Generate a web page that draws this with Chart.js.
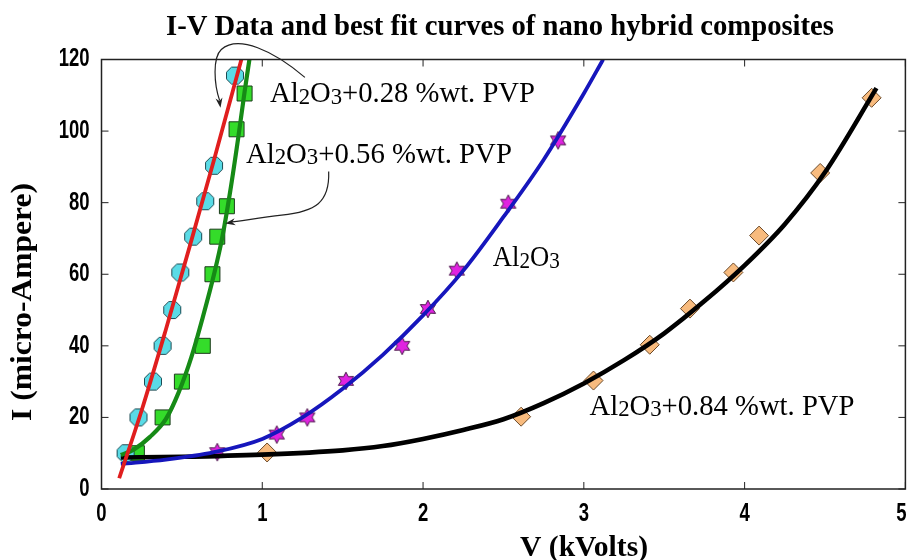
<!DOCTYPE html>
<html>
<head>
<meta charset="utf-8">
<script src="https://cdn.jsdelivr.net/npm/chart.js@4.4.1/dist/chart.umd.min.js"></script>
<style>
  html, body { margin: 0; padding: 0; background: #fff; }
  #wrap { width: 917px; height: 560px; }
</style>
</head>
<body>
<div id="wrap"><canvas id="c" width="917" height="560"></canvas></div>
<script>
// measured points, V in kVolts, I in micro-Ampere
const pvp28V = [0.15, 0.23, 0.32, 0.38, 0.44, 0.49, 0.57, 0.645, 0.70, 0.83];
const pvp28I = [10, 20, 30, 40, 50, 60.5, 70.5, 80.4, 90.3, 115.5];
const pvp56V = [0.22, 0.38, 0.50, 0.63, 0.69, 0.72, 0.78, 0.84, 0.89];
const pvp56I = [10, 20, 30, 40, 60, 70.5, 79, 100.5, 110.5];
const pureV = [0.72, 1.09, 1.28, 1.52, 1.87, 2.03, 2.21, 2.53, 2.84];
const pureI = [10.3, 15.2, 20, 30.2, 40, 50.3, 61, 79.7, 97.4];
const pvp84V = [1.03, 2.61, 3.06, 3.41, 3.66, 3.93, 4.09, 4.47, 4.79];
const pvp84I = [10.2, 20.2, 30.3, 40.3, 50.4, 60.5, 70.8, 88.3, 109.3];

// best fit curves
const fit28V = [0.11, 0.25, 0.40, 0.55, 0.70, 0.87];
const fit28I = [3, 22, 44.5, 68, 92, 120];
const fit56V = [0.12, 0.2, 0.3, 0.4, 0.48, 0.56, 0.63, 0.7, 0.75, 0.8, 0.85, 0.89, 0.92];
const fit56I = [9.5, 11, 14.5, 19.5, 27, 37, 48, 60, 70, 83, 98, 111, 120];
const fitPureV = [0.12, 0.4, 0.7, 1.0, 1.25, 1.5, 1.75, 2.0, 2.25, 2.5, 2.75, 3.0, 3.12];
const fitPureI = [7, 8.2, 10.3, 14, 20, 28, 37.5, 48.5, 61, 76, 92, 110.5, 120];
const fit84V = [0.12, 0.5, 1.0, 1.5, 1.75, 2.0, 2.25, 2.5, 2.75, 3.0, 3.25, 3.5, 3.75, 4.0, 4.25, 4.5, 4.82];
const fit84I = [8.8, 9.0, 9.6, 10.8, 12, 14, 16.5, 19.5, 24, 29.5, 36, 43.5, 52.5, 62.5, 74, 88.5, 112];

const xTicks = [0, 1, 2, 3, 4, 5];
const yTicks = [0, 20, 40, 60, 80, 100, 120];

const toXY = (xs, ys) => xs.map((x, i) => ({ x, y: ys[i] }));

function makeMarker(size, draw) {
  const cv = document.createElement('canvas');
  cv.width = size; cv.height = size;
  const g = cv.getContext('2d');
  draw(g, size / 2);
  return cv;
}

const octagon = makeMarker(22, (g, c) => {
  g.beginPath();
  for (let k = 0; k < 8; k++) {
    const a = Math.PI / 8 + k * Math.PI / 4;
    g.lineTo(c + 9.2 * Math.cos(a), c + 9.2 * Math.sin(a));
  }
  g.closePath();
  g.fillStyle = '#5adbe6';
  g.fill();
  g.lineWidth = 1;
  g.strokeStyle = '#1d4a52';
  g.stroke();
});

const hexStar = makeMarker(22, (g, c) => {
  g.beginPath();
  for (let k = 0; k < 12; k++) {
    const a = -Math.PI / 2 + k * Math.PI / 6;
    const r = k % 2 ? 4.8 : 8.8;
    g.lineTo(c + r * Math.cos(a), c + r * Math.sin(a));
  }
  g.closePath();
  g.fillStyle = '#e023e0';
  g.fill();
  g.lineWidth = 1;
  g.strokeStyle = '#4a1a4a';
  g.stroke();
});

const fitLine = (xs, ys, color, width) => ({
  data: toXY(xs, ys),
  showLine: true,
  borderColor: color,
  borderWidth: width,
  pointRadius: 0,
  cubicInterpolationMode: 'monotone',
  order: 0,
});

// text with subscripts, squeezed to a target width
function richText(ctx, parts, x, y, width, size, bold) {
  const base = (bold ? 'bold ' : '') + size + 'px "Liberation Serif", "Times New Roman", serif';
  const sub = (bold ? 'bold ' : '') + Math.round(size * 0.8) + 'px "Liberation Serif", "Times New Roman", serif';
  let natural = 0;
  parts.forEach(p => { ctx.font = p[1] ? sub : base; natural += ctx.measureText(p[0]).width; });
  ctx.save();
  ctx.translate(x, y);
  ctx.scale(width / natural, 1);
  ctx.fillStyle = '#000';
  ctx.textBaseline = 'alphabetic';
  ctx.textAlign = 'left';
  let cx = 0;
  parts.forEach(p => {
    ctx.font = p[1] ? sub : base;
    ctx.fillText(p[0], cx, p[1] ? size * 0.05 : 0);
    cx += ctx.measureText(p[0]).width;
  });
  ctx.restore();
}

// narrow bold tick numbers, like the squeezed original
function tickText(ctx, text, x, y, align) {
  ctx.save();
  ctx.font = 'bold 25px "Liberation Sans", Arial, sans-serif';
  ctx.fillStyle = '#000';
  ctx.textBaseline = 'middle';
  ctx.textAlign = align;
  ctx.translate(x, y);
  ctx.scale(0.74, 1);
  ctx.fillText(text, 0, 0);
  ctx.restore();
}

function arrowHead(ctx, tx, ty, fx, fy) {
  const a = Math.atan2(ty - fy, tx - fx);
  ctx.beginPath();
  ctx.moveTo(tx, ty);
  ctx.lineTo(tx - 10 * Math.cos(a) + 3.5 * Math.sin(a), ty - 10 * Math.sin(a) - 3.5 * Math.cos(a));
  ctx.lineTo(tx - 7 * Math.cos(a), ty - 7 * Math.sin(a));
  ctx.lineTo(tx - 10 * Math.cos(a) - 3.5 * Math.sin(a), ty - 10 * Math.sin(a) + 3.5 * Math.cos(a));
  ctx.closePath();
  ctx.fill();
}

const overlay = {
  id: 'overlay',
  afterDraw(chart) {
    const { ctx, chartArea: a, scales: { x, y } } = chart;
    const px = v => x.getPixelForValue(v);
    const py = v => y.getPixelForValue(v);

    // frame with inward ticks on all four sides
    ctx.save();
    ctx.strokeStyle = '#222';
    ctx.lineWidth = 1.5;
    ctx.strokeRect(a.left, a.top, a.right - a.left, a.bottom - a.top);
    ctx.lineWidth = 1;
    ctx.beginPath();
    xTicks.forEach(v => {
      ctx.moveTo(px(v), a.bottom); ctx.lineTo(px(v), a.bottom - 7);
      ctx.moveTo(px(v), a.top); ctx.lineTo(px(v), a.top + 7);
    });
    yTicks.forEach(v => {
      ctx.moveTo(a.left, py(v)); ctx.lineTo(a.left + 7, py(v));
      ctx.moveTo(a.right, py(v)); ctx.lineTo(a.right - 7, py(v));
    });
    ctx.stroke();
    ctx.restore();

    // tick numbers taken from the scales
    x.ticks.forEach(t => tickText(ctx, String(t.value), Math.min(px(t.value), a.right - 4), a.bottom + 25, 'center'));
    y.ticks.forEach(t => tickText(ctx, String(t.value), a.left - 12, py(t.value), 'right'));

    // series labels
    richText(ctx, [['Al'], ['2', 1], ['O'], ['3', 1], ['+0.28 %wt. PVP']], px(1.048), py(108), 265, 29);
    richText(ctx, [['Al'], ['2', 1], ['O'], ['3', 1], ['+0.56 %wt. PVP']], px(0.898), py(91.1), 266, 29);
    richText(ctx, [['Al'], ['2', 1], ['O'], ['3', 1]], px(2.434), py(62.2), 67, 29);
    richText(ctx, [['Al'], ['2', 1], ['O'], ['3', 1], ['+0.84 %wt. PVP']], px(3.035), py(20.7), 265, 29);

    // curved arrows from labels to curves
    ctx.save();
    ctx.strokeStyle = '#222';
    ctx.fillStyle = '#222';
    ctx.lineWidth = 1.2;
    ctx.beginPath();
    ctx.moveTo(px(1.265), py(115));
    ctx.bezierCurveTo(px(1.07), py(122.5), px(0.85), py(127), px(0.745), py(122.8));
    ctx.bezierCurveTo(px(0.69), py(120.5), px(0.70), py(113), px(0.735), py(108.5));
    ctx.stroke();
    arrowHead(ctx, px(0.74), py(106.5), px(0.715), py(114));
    ctx.beginPath();
    ctx.moveTo(px(1.413), py(88.7));
    ctx.bezierCurveTo(px(1.42), py(80), px(1.33), py(77.5), px(1.12), py(76.5));
    ctx.bezierCurveTo(px(0.99), py(75.8), px(0.88), py(75), px(0.79), py(74.5));
    ctx.stroke();
    arrowHead(ctx, px(0.77), py(74.2), px(0.9), py(75.2));
    ctx.restore();

    // titles
    richText(ctx, [['I-V Data and best fit curves of nano hybrid composites']], 166, 35, 668, 29, true);
    richText(ctx, [['V (kVolts)']], 520, 556, 128, 29, true);
    ctx.save();
    ctx.translate(31, 421);
    ctx.rotate(-Math.PI / 2);
    richText(ctx, [['I (micro-Ampere)']], 0, 0, 238, 29, true);
    ctx.restore();
  }
};

new Chart(document.getElementById('c'), {
  type: 'scatter',
  data: {
    datasets: [
      fitLine(fit28V, fit28I, '#e01e1e', 3.8),
      fitLine(fit56V, fit56I, '#168a16', 4.2),
      fitLine(fitPureV, fitPureI, '#1616bc', 3.8),
      fitLine(fit84V, fit84I, '#000000', 4.6),
      { data: toXY(pvp28V, pvp28I), pointStyle: octagon, pointRadius: 9, order: 1 },
      { data: toXY(pvp56V, pvp56I), pointStyle: 'rect', pointRadius: 10.6, backgroundColor: '#34dc2a', borderColor: '#1b3a1b', borderWidth: 1, order: 1 },
      { data: toXY(pureV, pureI), pointStyle: hexStar, pointRadius: 9, order: 1 },
      { data: toXY(pvp84V, pvp84I), pointStyle: 'rectRot', pointRadius: 9.5, backgroundColor: '#f8bb7e', borderColor: '#6b4a2a', borderWidth: 1, order: 1 },
    ],
  },
  options: {
    responsive: false,
    animation: false,
    layout: { padding: { top: 59.5, right: 7, left: 0, bottom: 0 } },
    plugins: { legend: { display: false }, tooltip: { enabled: false }, title: { display: false } },
    scales: {
      x: {
        type: 'linear', min: 0, max: 5,
        ticks: { stepSize: 1, display: false },
        grid: { display: false, drawTicks: false },
        border: { display: false },
        afterFit(s) { s.height = 71; },
      },
      y: {
        min: 0, max: 120,
        ticks: { stepSize: 20, display: false },
        grid: { display: false, drawTicks: false },
        border: { display: false },
        afterFit(s) { s.width = 101.5; },
      },
    },
  },
  plugins: [overlay],
});
</script>
</body>
</html>
